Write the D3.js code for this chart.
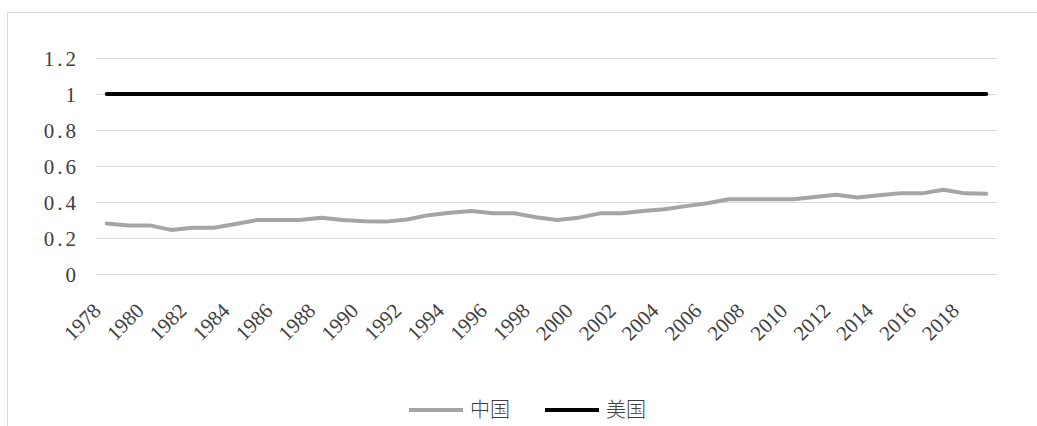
<!DOCTYPE html>
<html>
<head>
<meta charset="utf-8">
<script src="https://cdn.jsdelivr.net/npm/d3@7"></script>
<style>
  body { margin: 0; background: #fff; }
  svg { display: block; }
</style>
</head>
<body>
<div id="chart"></div>
<script>
// data
const years = [1978, 1979, 1980, 1981, 1982, 1983, 1984, 1985, 1986, 1987,
    1988, 1989, 1990, 1991, 1992, 1993, 1994, 1995, 1996, 1997,
    1998, 1999, 2000, 2001, 2002, 2003, 2004, 2005, 2006, 2007,
    2008, 2009, 2010, 2011, 2012, 2013, 2014, 2015, 2016, 2017,
    2018, 2019];
const china = [0.28, 0.27, 0.27, 0.245, 0.257, 0.257, 0.278, 0.30, 0.30, 0.30,
    0.313, 0.30, 0.293, 0.291, 0.303, 0.327, 0.34, 0.35, 0.337, 0.337,
    0.315, 0.30, 0.313, 0.337, 0.337, 0.35, 0.36, 0.377, 0.393, 0.415,
    0.415, 0.415, 0.415, 0.428, 0.44, 0.425, 0.437, 0.448, 0.448, 0.468,
    0.448, 0.446];
const usa = [1, 1, 1, 1, 1, 1, 1, 1, 1, 1,
    1, 1, 1, 1, 1, 1, 1, 1, 1, 1,
    1, 1, 1, 1, 1, 1, 1, 1, 1, 1,
    1, 1, 1, 1, 1, 1, 1, 1, 1, 1,
    1, 1];
const yTicks = [0, 0.2, 0.4, 0.6, 0.8, 1, 1.2];
const xLabels = [1978, 1980, 1982, 1984, 1986, 1988, 1990, 1992, 1994, 1996,
    1998, 2000, 2002, 2004, 2006, 2008, 2010, 2012, 2014, 2016, 2018];
const seriesNames = ["中国", "美国"];
const seriesColors = ["#a5a5a5", "#000000"];

function main() {
    const width = 1037;
    const height = 426;
    const left = 96, right = 997, top = 58, bottom = 274;

    const svg = d3.select("#chart")
        .append("svg")
        .attr("width", width)
        .attr("height", height);

    // chart frame (only top and left edges show in the crop)
    svg.append("path")
        .attr("d", `M7.5,${height} V12.5 H${width}`)
        .attr("fill", "none")
        .attr("stroke", "#d9d9d9")
        .attr("stroke-width", 1);

    const x = d3.scalePoint()
        .domain(years)
        .range([left, right])
        .padding(0.5);

    const y = d3.scaleLinear()
        .domain([0, 1.2])
        .range([bottom, top]);

    // gridlines
    svg.append("g")
        .selectAll("line")
        .data(yTicks)
        .enter()
        .append("line")
        .attr("x1", left)
        .attr("x2", right)
        .attr("y1", d => Math.round(y(d)) + 0.5)
        .attr("y2", d => Math.round(y(d)) + 0.5)
        .attr("stroke", "#d9d9d9")
        .attr("stroke-width", 1);

    // y labels
    const yAxis = d3.axisLeft(y)
        .tickValues(yTicks)
        .tickSize(0)
        .tickPadding(0)
        .tickFormat(d => d === 1 || d === 0 ? String(d) : d3.format(".1f")(d));
    const gy = svg.append("g")
        .attr("transform", `translate(79,0)`)
        .call(yAxis);
    gy.select(".domain").remove();
    gy.selectAll("text")
        .attr("font-family", "'Liberation Serif', serif")
        .attr("font-size", 21)
        .attr("fill", "#404040")
        .attr("letter-spacing", 3)
        .attr("dy", "0.35em");

    // x labels, rotated
    const xAxis = d3.axisBottom(x)
        .tickValues(xLabels)
        .tickSize(0)
        .tickPadding(0);
    const gx = svg.append("g")
        .attr("transform", `translate(0,${bottom})`)
        .call(xAxis);
    gx.select(".domain").remove();
    gx.selectAll("text")
        .attr("font-family", "'Liberation Serif', serif")
        .attr("font-size", 21)
        .attr("fill", "#404040")
        .attr("text-anchor", "end")
        .attr("dy", 0)
        .attr("y", 0)
        .attr("transform", "translate(-5,38) rotate(-45)");

    const line = d3.line()
        .x((d, i) => x(years[i]))
        .y(d => y(d));

    [china, usa].forEach((s, k) => {
        svg.append("path")
            .datum(s)
            .attr("d", line)
            .attr("fill", "none")
            .attr("stroke", seriesColors[k])
            .attr("stroke-width", 4)
            .attr("stroke-linejoin", "round")
            .attr("stroke-linecap", "round");
    });

    // legend
    const legendX = [409, 545];
    const legend = svg.append("g");
    seriesNames.forEach((name, k) => {
        legend.append("line")
            .attr("x1", legendX[k])
            .attr("x2", legendX[k] + 54)
            .attr("y1", 410)
            .attr("y2", 410)
            .attr("stroke", seriesColors[k])
            .attr("stroke-width", 4);
        legend.append("text")
            .attr("x", legendX[k] + 61)
            .attr("y", 410)
            .attr("dy", "0.36em")
            .attr("font-family", "'Noto Sans CJK SC', sans-serif")
            .attr("font-weight", 300)
            .attr("font-size", 20)
            .attr("fill", "#404040")
            .text(name);
    });
}
main();
</script>
</body>
</html>
